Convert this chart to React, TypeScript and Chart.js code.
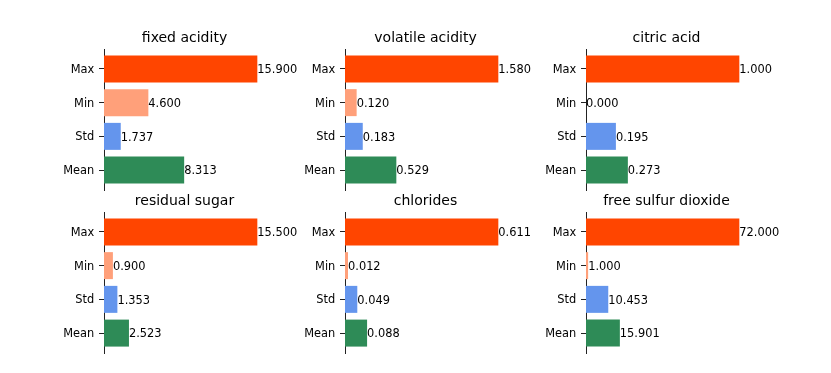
import React, { useEffect, useRef } from "react";
import { Chart, registerables } from "chart.js";

Chart.register(...registerables);

const CATEGORIES = ["Max", "Min", "Std", "Mean"];
const BAR_COLORS = ["#FF4500", "#FFA07A", "#6495ED", "#2E8B57"];

const FIXED_ACIDITY = [15.9, 4.6, 1.737, 8.313];
const VOLATILE_ACIDITY = [1.58, 0.12, 0.183, 0.529];
const CITRIC_ACID = [1.0, 0.0, 0.195, 0.273];
const RESIDUAL_SUGAR = [15.5, 0.9, 1.353, 2.523];
const CHLORIDES = [0.611, 0.012, 0.049, 0.088];
const FREE_SULFUR_DIOXIDE = [72.0, 1.0, 10.453, 15.901];

const FONT = "'DejaVu Sans', sans-serif";
const AX_W = 161;
const AX_H = 141;
const Y_LABEL_W = 70;
const TOP_PAD = 30;
const RIGHT_PAD = 60;

type PanelProps = { title: string; values: number[]; axLeft: number; axTop: number };

function Panel({ title, values, axLeft, axTop }: PanelProps) {
  const ref = useRef<HTMLCanvasElement | null>(null);
  const cw = Y_LABEL_W + AX_W + RIGHT_PAD;
  const ch = TOP_PAD + AX_H + 2;

  useEffect(() => {
    if (!ref.current) return;
    const labelPlugin = {
      id: "barLabels",
      afterDatasetsDraw(chart: any) {
        const ctx = chart.ctx;
        const meta = chart.getDatasetMeta(0);
        ctx.save();
        ctx.fillStyle = "#000";
        ctx.font = `11.4px ${FONT}`;
        ctx.textAlign = "left";
        ctx.textBaseline = "alphabetic";
        meta.data.forEach((bar: any, i: number) => {
          ctx.fillText(values[i].toFixed(3), bar.x, bar.y + 4.4);
        });
        const ca = chart.chartArea;
        ctx.font = `14px ${FONT}`;
        ctx.textAlign = "center";
        ctx.fillText(title, (ca.left + ca.right) / 2, ca.top - 6.8);
        ctx.restore();
      },
    };
    const chart = new Chart(ref.current, {
      type: "bar",
      data: {
        datasets: [
          {
            data: values.map((v, i) => ({ x: v, y: i })),
            backgroundColor: BAR_COLORS,
            borderWidth: 0,
            categoryPercentage: 1,
            barPercentage: 0.8,
          },
        ],
      },
      options: {
        indexAxis: "y",
        responsive: false,
        animation: false,
        layout: { padding: { top: TOP_PAD, right: RIGHT_PAD, bottom: 2, left: 0 } },
        plugins: { legend: { display: false }, tooltip: { enabled: false }, title: { display: false } },
        scales: {
          x: {
            type: "linear",
            display: false,
            min: 0,
            max: Math.max(...values) * 1.05,
          },
          y: {
            type: "linear",
            reverse: true,
            offset: false,
            min: -0.59,
            max: 3.59,
            afterBuildTicks: (s: any) => {
              s.ticks = CATEGORIES.map((_, i) => ({ value: i }));
            },
            afterFit: (s: any) => {
              s.width = Y_LABEL_W;
              s.paddingTop = 0;
              s.paddingBottom = 0;
            },
            ticks: {
              autoSkip: false,
              padding: 4.7,
              labelOffset: 1,
              color: "#000",
              font: { family: FONT, size: 11.4 },
              callback: (v: any) => CATEGORIES[v as number] ?? "",
            },
            grid: {
              offset: false,
              drawOnChartArea: false,
              drawTicks: true,
              tickLength: 5,
              color: "#222",
              tickColor: "#222",
            },
            border: { display: true, color: "#222", width: 1 },
          },
        },
      } as any,
      plugins: [labelPlugin],
    });
    return () => chart.destroy();
  }, [title, values]);

  return (
    <canvas
      ref={ref}
      width={cw}
      height={ch}
      style={{
        position: "absolute",
        left: axLeft - Y_LABEL_W,
        top: axTop - TOP_PAD,
        width: cw,
        height: ch,
      }}
    />
  );
}

const PANELS = [
  { title: "fixed acidity", values: FIXED_ACIDITY },
  { title: "volatile acidity", values: VOLATILE_ACIDITY },
  { title: "citric acid", values: CITRIC_ACID },
  { title: "residual sugar", values: RESIDUAL_SUGAR },
  { title: "chlorides", values: CHLORIDES },
  { title: "free sulfur dioxide", values: FREE_SULFUR_DIOXIDE },
];
const COL_LEFTS = [104, 345, 586];
const ROW_TOPS = [49, 212];

export default function App() {
  return (
    <div
      style={{
        position: "absolute",
        left: 0,
        top: 0,
        width: 831,
        height: 373,
        background: "#fff",
        overflow: "hidden",
      }}
    >
      {PANELS.map((p, i) => (
        <Panel
          key={p.title}
          title={p.title}
          values={p.values}
          axLeft={COL_LEFTS[i % 3]}
          axTop={ROW_TOPS[Math.floor(i / 3)]}
        />
      ))}
    </div>
  );
}
